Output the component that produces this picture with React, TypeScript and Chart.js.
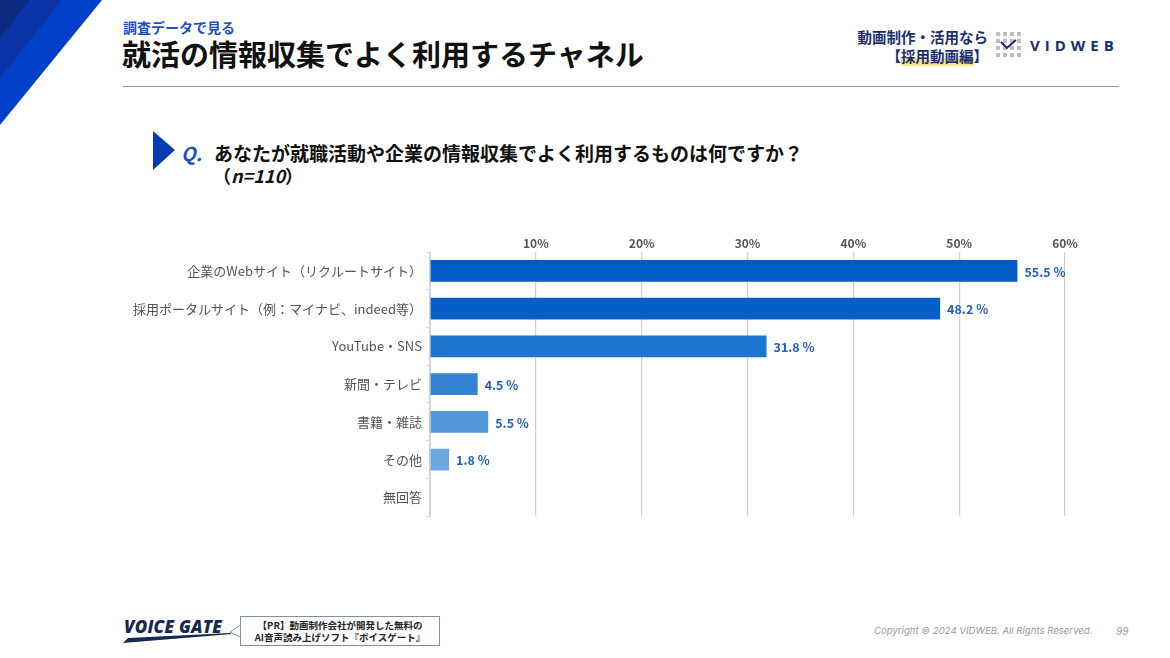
import React, { useEffect, useRef } from "react";
import { Chart, registerables } from "chart.js";

Chart.register(...registerables);

const categories = [
  "企業のWebサイト（リクルートサイト）",
  "採用ポータルサイト（例：マイナビ、indeed等）",
  "YouTube・SNS",
  "新聞・テレビ",
  "書籍・雑誌",
  "その他",
  "無回答",
];
const values = [55.5, 48.2, 31.8, 4.5, 5.5, 1.8, 0];
const barColors = ["#005BC5", "#065EC7", "#1C75CF", "#3483D3", "#5297D9", "#6CA8DF", "#8DBCE6"];
const xTicks = [0, 10, 20, 30, 40, 50, 60];

const FONT = '"Noto Sans CJK JP", "Noto Sans", sans-serif';

const valueLabelPlugin = {
  id: "valueLabels",
  afterDatasetsDraw(chart: any) {
    const ctx = chart.ctx;
    const meta = chart.getDatasetMeta(0);
    ctx.save();
    ctx.font = `bold 12.5px ${FONT}`;
    ctx.fillStyle = "#1F5FBF";
    ctx.textBaseline = "middle";
    ctx.textAlign = "left";
    meta.data.forEach((bar: any, i: number) => {
      const v = values[i];
      if (!v) return;
      ctx.fillText(`${v.toFixed(1)} %`, bar.x + 7, bar.y + 1);
    });
    ctx.restore();
  },
};

function BarChart() {
  const ref = useRef<HTMLCanvasElement | null>(null);
  useEffect(() => {
    if (!ref.current) return;
    const chart = new Chart(ref.current, {
      type: "bar",
      data: {
        labels: categories,
        datasets: [
          {
            data: values,
            backgroundColor: barColors,
            borderWidth: 0,
            barPercentage: 0.58,
            categoryPercentage: 1,
          },
        ],
      },
      options: {
        indexAxis: "y",
        animation: false,
        responsive: false,
        maintainAspectRatio: false,
        layout: { padding: { right: 35, bottom: 10, top: 0, left: 0 } },
        plugins: { legend: { display: false }, tooltip: { enabled: false } },
        scales: {
          x: {
            position: "top",
            min: 0,
            max: 60,
            afterBuildTicks: (s: any) => {
              s.ticks = xTicks.map((v) => ({ value: v }));
            },
            afterFit: (s: any) => {
              s.height = 24;
            },
            border: { display: false },
            grid: { color: "#D0D0D0", lineWidth: 1.2, drawTicks: false },
            ticks: {
              padding: 1,
              color: "#555555",
              font: { family: FONT, size: 12, weight: "bold" },
              callback: (v: any) => (v === 0 ? "" : `${v}%`),
            },
          },
          y: {
            afterFit: (s: any) => {
              s.width = 310;
            },
            border: { display: true, color: "#D8D8D8", width: 1 },
            grid: {
              drawOnChartArea: false,
              color: "#D8D8D8",
              tickLength: 4,
              offset: true,
            },
            ticks: {
              padding: 4,
              color: "#555555",
              font: { family: FONT, size: 13 },
            },
          },
        },
      },
      plugins: [valueLabelPlugin],
    });
    return () => chart.destroy();
  }, []);
  return (
    <canvas
      ref={ref}
      width={980}
      height={300}
      style={{ position: "absolute", left: 120, top: 228, width: 980, height: 300 }}
    />
  );
}

export default function App() {
  const abs = (s: React.CSSProperties): React.CSSProperties => ({ position: "absolute", ...s });
  return (
    <div
      style={{
        position: "absolute",
        left: 0,
        top: 0,
        width: 1170,
        height: 658,
        background: "#ffffff",
        overflow: "hidden",
        fontFamily: FONT,
      }}
    >
      <svg width={140} height={130} style={abs({ left: 0, top: 0 })}>
        <polygon points="0,0 102,0 0,125" fill="#0040C8" />
        <polygon points="0,0 62,0 0,78" fill="#0934A8" />
        <polygon points="0,0 30,0 0,38" fill="#0B2A80" />
      </svg>
      <div style={abs({ left: 123, top: 18, fontSize: 14, fontWeight: 700, color: "#1D4FC0", lineHeight: "18px" })}>
        調査データで見る
      </div>
      <div style={abs({ left: 122, top: 34, fontSize: 29, fontWeight: 700, color: "#111", lineHeight: "38px" })}>
        就活の情報収集でよく利用するチャネル
      </div>
      <div style={abs({ left: 123, top: 86, width: 996, height: 1, background: "#9A9A9A" })} />

      {/* right logo */}
      <div style={abs({ left: 840, top: 27, width: 148, textAlign: "right", fontSize: 14.5, fontWeight: 700, color: "#1B2E6E", lineHeight: "19px", whiteSpace: "nowrap" })}>
        動画制作・活用なら
        <br />
        【<span style={{ background: "linear-gradient(transparent 60%, #FBE58A 60%)" }}>採用動画編</span>】
      </div>
      <svg width={26} height={26} style={abs({ left: 996, top: 32 })}>
        {[0, 1, 2, 3].map((r) =>
          [0, 1, 2, 3].map((c) => (
            <rect key={`${r}-${c}`} x={c * 7} y={r * 7} width={4} height={4} fill="#BDBDBD" />
          ))
        )}
        <polyline points="5,10 11,16 20,8" fill="none" stroke="#1B2E6E" strokeWidth={2} />
      </svg>
      <div style={abs({ left: 1030, top: 35, fontSize: 15, fontWeight: 700, color: "#1B2E6E", letterSpacing: 5, fontFamily: '"Open Sans", sans-serif' })}>
        VIDWEB
      </div>

      {/* question */}
      <svg width={24} height={40} style={abs({ left: 153, top: 131 })}>
        <polygon points="0,0 22,19 0,39" fill="#0B3BB0" />
      </svg>
      <div style={abs({ left: 181, top: 140, fontSize: 19, fontWeight: 700, fontStyle: "italic", color: "#1D4FC0", lineHeight: "26px" })}>
        Q.
      </div>
      <div style={abs({ left: 214, top: 140, fontSize: 19, fontWeight: 700, color: "#111", lineHeight: "26px", whiteSpace: "nowrap" })}>
        あなたが就職活動や企業の情報収集でよく利用するものは何ですか？
      </div>
      <div style={abs({ left: 213, top: 162, fontSize: 18, fontWeight: 700, color: "#111", lineHeight: "26px" })}>
        （<i>n=110</i>）
      </div>

      <BarChart />

      {/* footer */}
      <div style={abs({ left: 124, top: 617, fontSize: 17, fontWeight: 800, fontStyle: "italic", color: "#16284F", fontFamily: '"Open Sans", sans-serif', lineHeight: "20px", letterSpacing: 0.2 })}>
        VOICE GATE
      </div>
      <svg width={120} height={12} style={abs({ left: 120, top: 632 })}>
        <polygon points="3,11 8,6 110,1 112,2" fill="#16284F" />
      </svg>
      <svg width={20} height={20} style={abs({ left: 228, top: 622 })}>
        <polyline points="14,2 2,10 14,16" fill="none" stroke="#8090A8" strokeWidth={1} />
      </svg>
      <div
        style={abs({
          left: 240,
          top: 616,
          width: 200,
          height: 30,
          border: "1px solid #8090A8",
          boxSizing: "border-box",
          background: "#fff",
          textAlign: "center",
          fontSize: 9.5,
          fontWeight: 700,
          color: "#222",
          lineHeight: "12px",
          paddingTop: 2,
        })}
      >
        【PR】動画制作会社が開発した無料の
        <br />
        AI音声読み上げソフト『ボイスゲート』
      </div>
      <div style={abs({ left: 874, top: 625, fontSize: 9.6, fontStyle: "italic", color: "#999", fontFamily: '"Inter", sans-serif' })}>
        Copyright © 2024 VIDWEB. All Rights Reserved.
      </div>
      <div style={abs({ left: 1116, top: 625, fontSize: 10, fontStyle: "italic", color: "#999", fontFamily: '"Inter", sans-serif' })}>
        99
      </div>
    </div>
  );
}
